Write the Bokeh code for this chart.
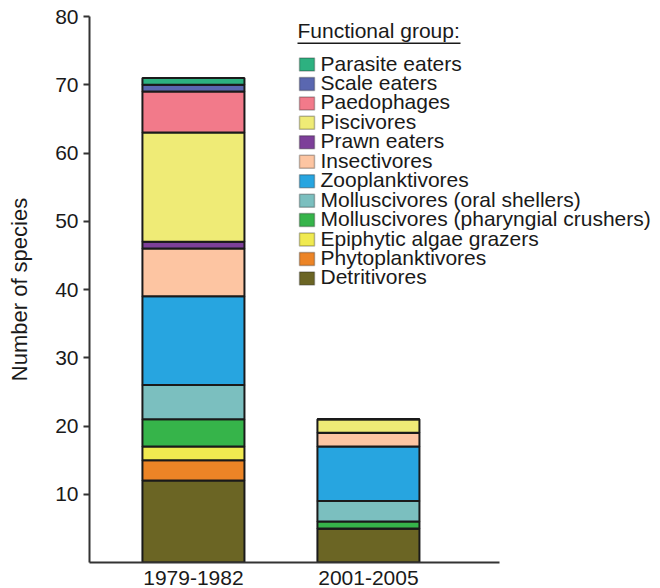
from bokeh.plotting import figure
from bokeh.models import (ColumnDataSource, FixedTicker, Range1d,
                          BoxAnnotation, Label)
from bokeh.embed import file_html
from bokeh.resources import INLINE

categories = ["1979-1982", "2001-2005"]

groups = ["Detritivores", "Phytoplanktivores", "Epiphytic algae grazers",
          "Molluscivores (pharyngial crushers)", "Molluscivores (oral shellers)",
          "Zooplanktivores", "Insectivores", "Prawn eaters", "Piscivores",
          "Paedophages", "Scale eaters", "Parasite eaters"]

detritivores = [12, 5]
phytoplanktivores = [3, 0]
epiphytic_algae_grazers = [2, 0]
molluscivores_pharyngial = [4, 1]
molluscivores_oral = [5, 3]
zooplanktivores = [13, 8]
insectivores = [7, 2]
prawn_eaters = [1, 0]
piscivores = [16, 2]
paedophages = [6, 0]
scale_eaters = [1, 0]
parasite_eaters = [1, 0]

colors = ["#6b6524", "#ec8426", "#f0ea50", "#36b44a", "#7bbfbf", "#27a5e0",
          "#fdc5a2", "#7d3f99", "#efeb76", "#f27a8a", "#5a67b0", "#2db180"]

y_ticks = [10, 20, 30, 40, 50, 60, 70, 80]

legend_title = "Functional group:"

series = [detritivores, phytoplanktivores, epiphytic_algae_grazers,
          molluscivores_pharyngial, molluscivores_oral, zooplanktivores,
          insectivores, prawn_eaters, piscivores, paedophages, scale_eaters,
          parasite_eaters]

xpos = list(range(1, len(categories) + 1))
data = {"x": xpos}
for g, s in zip(groups, series):
    data[g] = s
source = ColumnDataSource(data)

FONT = "Liberation Sans"
TXT = "#1a1a1a"

p = figure(width=660, height=588, output_backend="svg", toolbar_location=None,
           x_range=Range1d(0.406, 3.669), y_range=Range1d(0, 80),
           min_border_left=89, min_border_right=0, min_border_top=16,
           min_border_bottom=26)
p.outline_line_color = None
p.xgrid.visible = False
p.ygrid.visible = False
p.background_fill_color = "white"

renderers = p.vbar_stack(groups, x="x", width=0.583, source=source,
                         fill_color=colors, line_color="#1a1a1a", line_width=2)

# axes
p.yaxis.ticker = FixedTicker(ticks=y_ticks)
p.yaxis.minor_tick_line_color = None
p.yaxis.major_tick_in = 0
p.yaxis.major_tick_out = 6
p.yaxis.major_label_standoff = 5
p.yaxis.axis_line_width = 2
p.yaxis.axis_line_color = "#333333"
p.yaxis.major_tick_line_width = 2
p.yaxis.major_tick_line_color = "#333333"
p.yaxis.major_label_text_font = FONT
p.yaxis.major_label_text_font_size = "21px"
p.yaxis.major_label_text_color = TXT
p.yaxis.axis_label = "Number of species"
p.yaxis.axis_label_text_font = FONT
p.yaxis.axis_label_text_font_size = "22px"
p.yaxis.axis_label_text_font_style = "normal"
p.yaxis.axis_label_text_color = TXT
p.yaxis.axis_label_standoff = 20

p.xaxis.ticker = FixedTicker(ticks=xpos)
p.xaxis.major_label_overrides = {x: c for x, c in zip(xpos, categories)}
p.xaxis.minor_tick_line_color = None
p.xaxis.major_tick_line_color = None
p.xaxis.major_tick_in = 0
p.xaxis.major_tick_out = 0
p.xaxis.major_label_standoff = 8
p.xaxis.axis_line_width = 2
p.xaxis.axis_line_color = "#333333"
p.xaxis.bounds = (0.406, 2.749)
p.xaxis.major_label_text_font = FONT
p.xaxis.major_label_text_font_size = "21px"
p.xaxis.major_label_text_color = TXT

# legend (built from annotations, positioned in canvas pixels)
LEG_X = 299
LEG_Y0 = 64
LEG_DY = 19.45
p.add_layout(Label(x=297, y=29.5, x_units="canvas", y_units="canvas",
                   text=legend_title, text_font=FONT, text_font_size="21px",
                   text_color=TXT, text_baseline="alphabetic"))
p.add_layout(BoxAnnotation(left=297, right=460, top=42, bottom=43.5,
                           left_units="canvas", right_units="canvas",
                           top_units="canvas", bottom_units="canvas",
                           fill_color=TXT, fill_alpha=1, line_color=None))
for i, (g, c) in enumerate(zip(groups[::-1], colors[::-1])):
    cy = LEG_Y0 + LEG_DY * i
    p.add_layout(BoxAnnotation(left=LEG_X, right=LEG_X + 15,
                               top=cy - 6.5, bottom=cy + 6.5,
                               left_units="canvas", right_units="canvas",
                               top_units="canvas", bottom_units="canvas",
                               fill_color=c, fill_alpha=1,
                               line_color="#1a1a1a", line_width=1.5))
    p.add_layout(Label(x=LEG_X + 21, y=cy - 1.5, x_units="canvas",
                       y_units="canvas", text=g, text_font=FONT,
                       text_font_size="21px", text_color=TXT,
                       text_baseline="alphabetic"))

open("out.html", "w").write(file_html(p, INLINE))
